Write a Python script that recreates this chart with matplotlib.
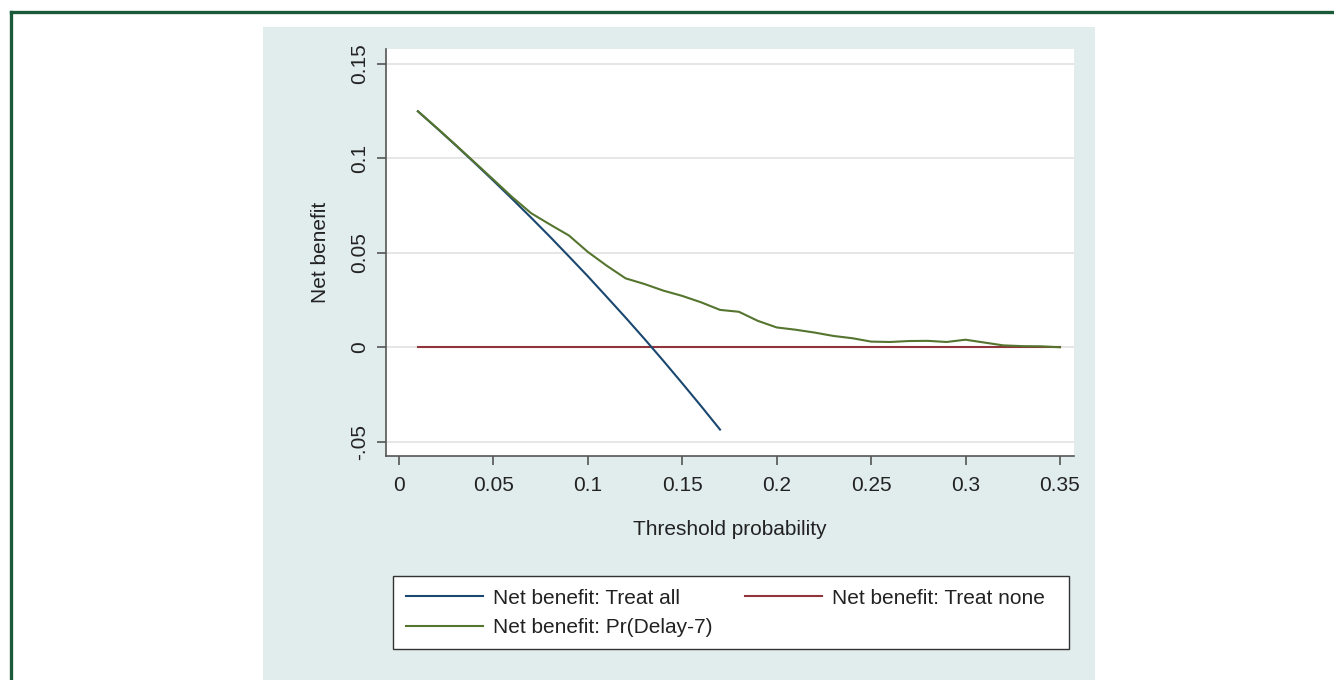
import matplotlib.pyplot as plt
import numpy as np
from matplotlib.lines import Line2D
from matplotlib.patches import Rectangle

plt.rcParams['font.family'] = ['Liberation Sans', 'DejaVu Sans']

# threshold probabilities
thr_all = [0.01, 0.02, 0.03, 0.04, 0.05, 0.06, 0.07, 0.08, 0.09, 0.10,
           0.11, 0.12, 0.13, 0.14, 0.15, 0.16, 0.17]
nb_all = [0.1250, 0.1161, 0.1070, 0.0977, 0.0882, 0.0785, 0.0686, 0.0585,
          0.0481, 0.0376, 0.0267, 0.0157, 0.0044, -0.0072, -0.0191, -0.0312,
          -0.0436]

thr = [0.01, 0.02, 0.03, 0.04, 0.05, 0.06, 0.07, 0.08, 0.09, 0.10,
       0.11, 0.12, 0.13, 0.14, 0.15, 0.16, 0.17, 0.18, 0.19, 0.20,
       0.21, 0.22, 0.23, 0.24, 0.25, 0.26, 0.27, 0.28, 0.29, 0.30,
       0.31, 0.32, 0.33, 0.34, 0.35]
nb_none = [0.0] * len(thr)
nb_model = [0.1250, 0.1162, 0.1072, 0.0980, 0.0888, 0.0795, 0.0710, 0.0650,
            0.0592, 0.0505, 0.0432, 0.0365, 0.0335, 0.0300, 0.0272, 0.0238,
            0.0198, 0.0188, 0.0140, 0.0105, 0.0093, 0.0078, 0.0060, 0.0048,
            0.0030, 0.0028, 0.0033, 0.0034, 0.0028, 0.0040, 0.0025, 0.0010,
            0.0006, 0.0005, 0.0000]

xticks = [0, 0.05, 0.1, 0.15, 0.2, 0.25, 0.3, 0.35]
xticklabels = ['0', '0.05', '0.1', '0.15', '0.2', '0.25', '0.3', '0.35']
yticks = [-0.05, 0, 0.05, 0.1, 0.15]
yticklabels = ['-.05', '0', '0.05', '0.1', '0.15']

navy = '#1a476f'
maroon = '#90353b'
green = '#55752f'
W, H = 1334, 680

fig = plt.figure(figsize=(W / 100, H / 100), dpi=100)
fig.patch.set_facecolor('white')

# graph region (light bluish panel)
fig.add_artist(Rectangle((263 / W, 0), (1095 - 263) / W, 1 - 27 / H,
                         transform=fig.transFigure, facecolor='#e1ecec',
                         edgecolor='none', zorder=0))
# outer border (top and left only)
fig.add_artist(Line2D([10.5 / W, 1], [1 - 11.5 / H, 1 - 11.5 / H],
                      transform=fig.transFigure, color='#1b5a38', lw=2.4))
fig.add_artist(Line2D([10.5 / W, 10.5 / W], [0, 1 - 11.5 / H],
                      transform=fig.transFigure, color='#1b5a38', lw=2.4))

ax = fig.add_axes([386 / W, 1 - 456 / H, (1073.7 - 386) / W, (456 - 49) / H])
ax.set_facecolor('white')

for yv in yticks:
    ax.axhline(yv, color='#e6e6e6', lw=1.4, zorder=1)

ax.plot(thr_all, nb_all, color=navy, lw=1.5, zorder=3)
ax.plot(thr, nb_none, color=maroon, lw=1.5, zorder=2)
ax.plot(thr, nb_model, color=green, lw=1.5, zorder=4)

ax.set_xlim(-0.0069, 0.3573)
ax.set_ylim(-0.0576, 0.158)
ax.set_xticks(xticks)
ax.set_xticklabels(xticklabels)
ax.set_yticks(yticks)
ax.set_yticklabels(yticklabels, rotation=90, va='center')

for s in ['top', 'right']:
    ax.spines[s].set_visible(False)
for s in ['left', 'bottom']:
    ax.spines[s].set_color('#555555')
    ax.spines[s].set_linewidth(1.2)
ax.tick_params(axis='both', length=6.5, width=1.2, color='#555555',
               labelsize=15, labelcolor='#222222')
ax.tick_params(axis='y', pad=6)
ax.tick_params(axis='x', pad=8)

ax.set_xlabel('Threshold probability', fontsize=15, color='#222222', labelpad=18)
ax.set_ylabel('Net benefit', fontsize=15, color='#222222', labelpad=14)

handles = [Line2D([], [], color=navy, lw=1.5),
           Line2D([], [], color=green, lw=1.5),
           Line2D([], [], color=maroon, lw=1.5)]
labels = ['Net benefit: Treat all', 'Net benefit: Pr(Delay-7)',
          'Net benefit: Treat none  ']
leg = fig.legend(handles, labels, ncol=2, loc='upper left',
                 bbox_to_anchor=(393 / W, 1 - 576 / H),
                 fontsize=15, frameon=True, fancybox=False, framealpha=1,
                 handlelength=3.7, handletextpad=0.5, columnspacing=1.55,
                 borderpad=0.6, labelspacing=0.5, borderaxespad=0)
leg.get_frame().set_edgecolor('#333333')
leg.get_frame().set_facecolor('white')
leg.get_frame().set_linewidth(1.0)
for t in leg.get_texts():
    t.set_color('#222222')

fig.savefig('out.png', dpi=100)
